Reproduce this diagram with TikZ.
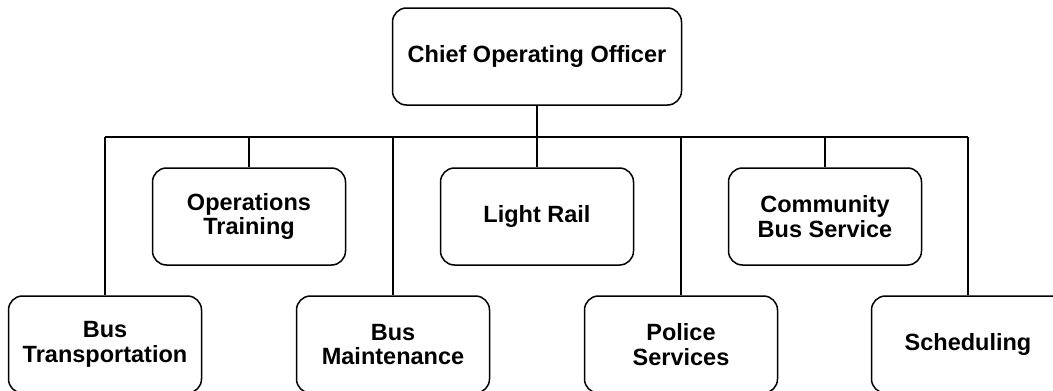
\documentclass[tikz,border=0pt]{standalone}
\usepackage{fontspec}
\setmainfont{Liberation Sans}
\begin{document}
\begin{tikzpicture}[x=1pt,y=-1pt,
  unit/.style={draw, line width=1.5pt, rounded corners=14pt, fill=white,
    minimum width=193pt, minimum height=97pt, inner sep=0pt, align=center,
    font=\fontsize{23.5}{24.5}\selectfont\bfseries},
  link/.style={line width=1.5pt}]
\useasboundingbox (0,0) rectangle (1053,391);
\clip (0,0) rectangle (1053,391);
\fill[white] (0,0) rectangle (1053,391);

% head of the division
\node[unit, minimum width=289pt] (coo) at (537,56.5) {\raisebox{5pt}{Chief Operating Officer}};

% upper row
\node[unit] (train) at (249,216.5) {Operations\\Training};
\node[unit] (rail) at (537,216.5) {\raisebox{6pt}{Light Rail}};
\node[unit] (cbs) at (825,216.5) {Community\\Bus Service};

% lower row
\node[unit] (bustr) at (105,344.5) {Bus\\Transportation};
\node[unit] (busm) at (393,344.5) {Bus\\Maintenance};
\node[unit] (police) at (681,344.5) {Police\\Services};
\node[unit] (sched) at (968,344.5) {\raisebox{6pt}{Scheduling}};

% distribution bar
\coordinate (barL) at (105,137);
\coordinate (barR) at (968,137);
\draw[link] (coo.south) -- (coo.south |- barL);
\draw[link] (barL) -- (barR);
\foreach \n in {train,rail,cbs,bustr,busm,police,sched}
  \draw[link] (\n.north |- barL) -- (\n.north);
\end{tikzpicture}
\end{document}
